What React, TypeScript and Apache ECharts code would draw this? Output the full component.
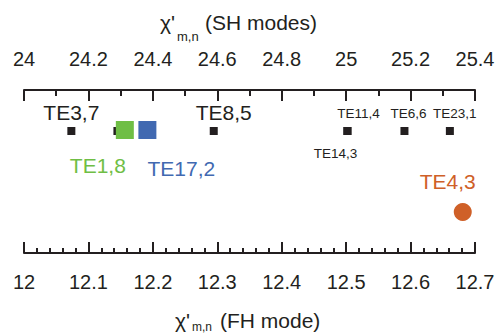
import React, { useEffect, useRef } from "react";
import * as echarts from "echarts";

// Top axis (SH modes)
const shMin = 24;
const shMax = 25.4;
const shInterval = 0.2;
// Bottom axis (FH mode)
const fhMin = 12;
const fhMax = 12.7;
const fhInterval = 0.1;

// Black SH modes
const blackModes = ["TE3,7", "", "TE8,5", "TE11,4", "TE14,3", "TE6,6", "TE23,1"];
const blackValues = [24.147, 24.29, 24.589, 25.004, 25.004, 25.181, 25.322];

// Highlighted SH modes
const greenMode = "TE1,8";
const greenValue = 24.313;
const blueMode = "TE17,2";
const blueValue = 24.383;

// FH mode
const orangeMode = "TE4,3";
const orangeValue = 12.681;

const FONT = "'Liberation Sans', Arial, sans-serif";
const INK = "#231f20";
const GREEN = "#6fbe45";
const BLUE = "#4169b1";
const ORANGE = "#cf6028";

// layout: row (px from top of grid) and label offsets
const blackRow = 41;
const colorRow = 40;
const orangeRow = 122;
const blackLabelStyle: Record<string, { offset: number[]; size: number }> = {
  "TE3,7": { offset: [0, -19], size: 21 },
  "TE8,5": { offset: [10, -19], size: 21 },
  "TE11,4": { offset: [11, -18], size: 13.5 },
  "TE14,3": { offset: [-12, 22], size: 13.5 },
  "TE6,6": { offset: [4, -18], size: 13.5 },
  "TE23,1": { offset: [5, -18], size: 13.5 },
};

export default function App() {
  const ref = useRef<HTMLDivElement>(null);
  useEffect(() => {
    if (!ref.current) return;
    const chart = echarts.init(ref.current, null, { renderer: "svg" });
    const axisCommon = {
      type: "value" as const,
      splitLine: { show: false },
      axisLine: { show: true, lineStyle: { color: INK, width: 2 } },
      axisLabel: { color: INK, fontSize: 20, fontFamily: FONT },
    };
    const mkLabel = (text: string, offset: number[], size: number, color: string) => ({
      show: true,
      position: "inside",
      offset,
      formatter: text,
      fontSize: size,
      fontFamily: FONT,
      color,
    });
    chart.setOption({
      animation: false,
      grid: { left: 24, right: 27, top: 90, bottom: 81 },
      xAxis: [
        {
          ...axisCommon,
          position: "top",
          min: shMin,
          max: shMax,
          interval: shInterval,
          axisTick: { show: true, inside: true, length: 11, lineStyle: { color: INK, width: 2 } },
          minorTick: { show: true, splitNumber: 2, length: 6, lineStyle: { color: INK, width: 2 } },
          axisLabel: { ...axisCommon.axisLabel, margin: 21 },
        },
        {
          ...axisCommon,
          position: "bottom",
          min: fhMin,
          max: fhMax,
          interval: fhInterval,
          axisTick: { show: true, inside: true, length: 11, lineStyle: { color: INK, width: 2 } },
          minorTick: { show: true, splitNumber: 5, length: 5, lineStyle: { color: INK, width: 2 } },
          axisLabel: { ...axisCommon.axisLabel, margin: 19 },
        },
      ],
      yAxis: { type: "value", min: 0, max: 163, inverse: true, show: false },
      graphic: [
        { type: "text", left: 160, top: 12, style: { text: "χ'", fontSize: 21, fontFamily: FONT, fill: INK } },
        { type: "text", left: 177, top: 30, style: { text: "m,n", fontSize: 13, fontFamily: FONT, fill: INK } },
        { type: "text", left: 205, top: 12, style: { text: "(SH modes)", fontSize: 21, fontFamily: FONT, fill: INK } },
        { type: "text", left: 175, top: 310, style: { text: "χ'", fontSize: 21, fontFamily: FONT, fill: INK } },
        { type: "text", left: 192, top: 321, style: { text: "m,n", fontSize: 12, fontFamily: FONT, fill: INK } },
        { type: "text", left: 220, top: 310, style: { text: "(FH mode)", fontSize: 21, fontFamily: FONT, fill: INK } },
      ],
      series: [
        {
          type: "scatter",
          xAxisIndex: 0,
          symbol: "rect",
          symbolSize: 8,
          itemStyle: { color: INK, opacity: 1 },
          data: blackValues.map((v, i) => {
            const name = blackModes[i];
            const st = blackLabelStyle[name];
            return {
              value: [v, blackRow],
              name,
              label: st ? mkLabel(name, st.offset, st.size, INK) : { show: false },
            };
          }),
        },
        {
          type: "scatter",
          xAxisIndex: 0,
          symbol: "rect",
          symbolSize: 18,
          itemStyle: { color: GREEN, opacity: 1 },
          data: [{ value: [greenValue, colorRow], name: greenMode, label: mkLabel(greenMode, [-27, 35], 21, GREEN) }],
        },
        {
          type: "scatter",
          xAxisIndex: 0,
          symbol: "rect",
          symbolSize: 18,
          itemStyle: { color: BLUE, opacity: 1 },
          data: [{ value: [blueValue, colorRow], name: blueMode, label: mkLabel(blueMode, [34, 38], 21, BLUE) }],
        },
        {
          type: "scatter",
          xAxisIndex: 1,
          symbol: "circle",
          symbolSize: 18,
          itemStyle: { color: ORANGE, opacity: 1 },
          data: [{ value: [orangeValue, orangeRow], name: orangeMode, label: mkLabel(orangeMode, [-15, -31], 21, ORANGE) }],
        },
      ],
    });
    return () => chart.dispose();
  }, []);
  return <div ref={ref} style={{ width: 502, height: 334, position: "absolute", left: 0, top: 0 }} />;
}
